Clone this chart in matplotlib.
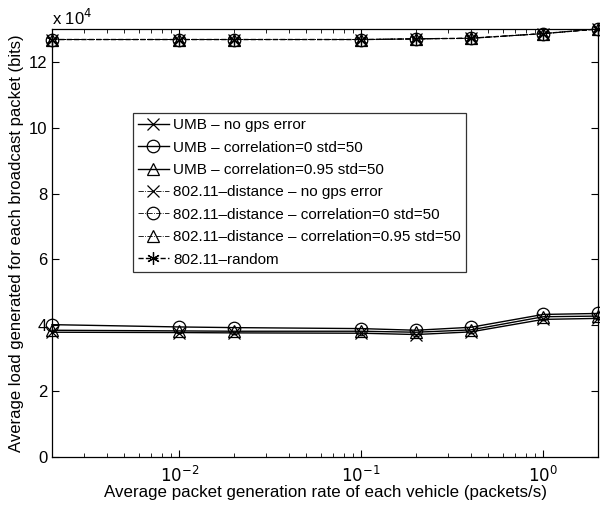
import matplotlib
matplotlib.use("Agg")
import matplotlib.pyplot as plt
from matplotlib.ticker import LogLocator, NullFormatter

plt.rcParams['font.family'] = ['Liberation Sans', 'DejaVu Sans']

rates = [0.002, 0.01, 0.02, 0.1, 0.2, 0.4, 1, 2]

umb_nogps = [3.79, 3.78, 3.77, 3.76, 3.72, 3.80, 4.18, 4.21]
umb_c0 = [4.02, 3.95, 3.93, 3.90, 3.85, 3.94, 4.33, 4.36]
umb_c95 = [3.85, 3.83, 3.82, 3.82, 3.79, 3.86, 4.26, 4.28]
d_nogps = [12.68, 12.68, 12.68, 12.68, 12.70, 12.72, 12.86, 13.0]
d_c0 = [12.68, 12.68, 12.68, 12.68, 12.70, 12.72, 12.86, 13.0]
d_c95 = [12.68, 12.68, 12.68, 12.68, 12.70, 12.72, 12.86, 13.0]
rand = [12.68, 12.68, 12.68, 12.68, 12.70, 12.72, 12.86, 13.0]

labels = ["UMB \u2013 no gps error",
          "UMB \u2013 correlation=0 std=50",
          "UMB \u2013 correlation=0.95 std=50",
          "802.11\u2013distance \u2013 no gps error",
          "802.11\u2013distance \u2013 correlation=0 std=50",
          "802.11\u2013distance \u2013 correlation=0.95 std=50",
          "802.11\u2013random"]

fig = plt.figure(figsize=(6.0, 5.08), dpi=100)
ax = fig.add_axes([52/600, 51/508, 546/600, 428/508])

series = [umb_nogps, umb_c0, umb_c95, d_nogps, d_c0, d_c95, rand]
markers = ['x', 'o', '^', 'x', 'o', '^', (6, 2, 0)]
sizes = [8, 9, 9, 8, 9, 9, 9]
styles = ['-', '-', '-', '-.', '-.', '-.', '--']
widths = [1.0, 1.0, 1.0, 0.6, 0.6, 0.6, 1.0]
for ys, m, ms, ls, lw, lab in zip(series, markers, sizes, styles, widths, labels):
    ax.plot(rates, ys, color='black', linestyle=ls, linewidth=lw, marker=m,
            markersize=ms, markerfacecolor='none', markeredgecolor='black',
            markeredgewidth=0.9, label=lab, clip_on=False)

ax.set_xscale('log')
ax.set_xlim(0.002, 2)
ax.set_ylim(0, 13)
ax.set_yticks([0, 2, 4, 6, 8, 10, 12])
ax.set_xticks([0.01, 0.1, 1])
ax.set_xticklabels([r'$10^{-2}$', r'$10^{-1}$', r'$10^{0}$'])
ax.xaxis.set_minor_locator(LogLocator(base=10, subs=range(2, 10), numticks=20))
ax.xaxis.set_minor_formatter(NullFormatter())
ax.tick_params(which='both', direction='in', top=True, right=True, labelsize=12)
ax.tick_params(axis='x', which='major', pad=6)
ax.tick_params(which='major', length=5)
ax.tick_params(which='minor', length=3)
for s in ax.spines.values():
    s.set_linewidth(0.9)

ax.set_xlabel("Average packet generation rate of each vehicle (packets/s)", fontsize=12.2, labelpad=0)
ax.set_ylabel("Average load generated for each broadcast packet (bits)", fontsize=12, labelpad=3)
fig.text(52/600, 490/508, r'x 10$^{4}$', fontsize=12, ha='left', va='center')

leg = ax.legend(loc='upper left', bbox_to_anchor=(0.148, 0.804), borderaxespad=0,
                fontsize=11, frameon=True, fancybox=False, edgecolor='black',
                handlelength=2.0, handletextpad=0.3, labelspacing=0.55, borderpad=0.35)
leg.get_frame().set_linewidth(0.9)

fig.savefig('out.png', dpi=100)
